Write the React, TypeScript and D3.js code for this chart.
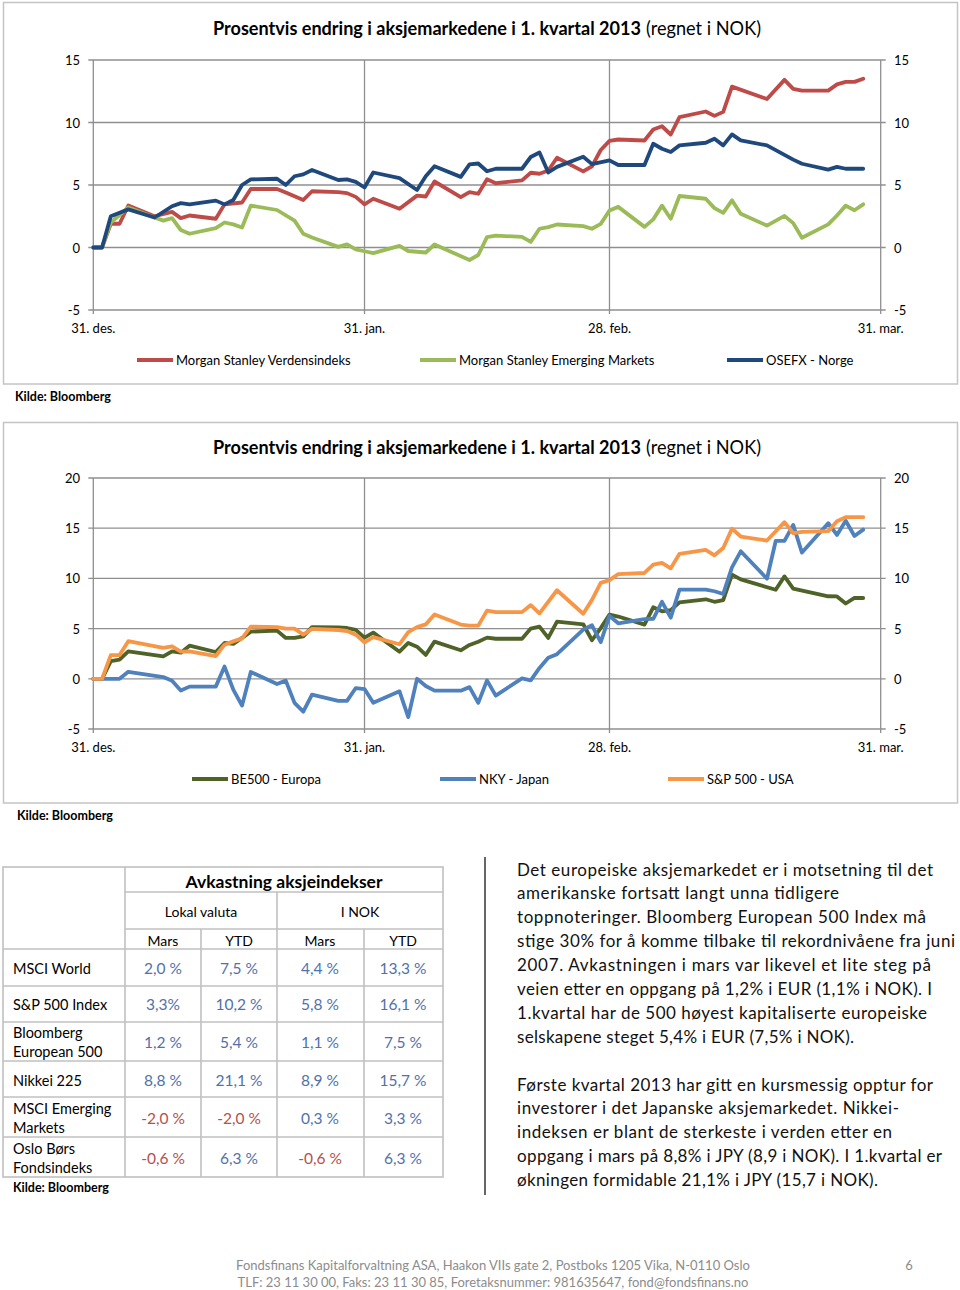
import React from 'react';
import * as d3 from 'd3';

type Pt = [string, number];

// ---------- DATA ----------
const xTickDates = ['12-31', '01-31', '02-28', '03-31'];
const xTickLabels = ['31. des.', '31. jan.', '28. feb.', '31. mar.'];
const chart1Ticks = [-5, 0, 5, 10, 15];
const chart2Ticks = [-5, 0, 5, 10, 15, 20];

const msciWorld: Pt[] = [
  ['12-31', 0], ['01-01', 0], ['01-02', 1.9], ['01-03', 1.9], ['01-04', 3.36], ['01-07', 2.5], ['01-09', 2.85],
  ['01-10', 2.35], ['01-11', 2.56], ['01-14', 2.3], ['01-15', 3.45], ['01-17', 3.6], ['01-18', 4.68], ['01-21', 4.68],
  ['01-22', 4.4], ['01-23', 4.1], ['01-24', 3.8], ['01-25', 4.5], ['01-28', 4.43], ['01-29', 4.35], ['01-30', 4.05],
  ['01-31', 3.45], ['02-01', 3.9], ['02-04', 3.1], ['02-06', 4.15], ['02-07', 4.08], ['02-08', 5.28], ['02-11', 4.03],
  ['02-12', 4.43], ['02-13', 4.3], ['02-14', 5.46], ['02-15', 5.14], ['02-18', 5.37], ['02-19', 5.98], ['02-20', 5.9],
  ['02-21', 6.16], ['02-22', 7.18], ['02-25', 6.09], ['02-26', 6.5], ['02-27', 7.8], ['02-28', 8.53], ['03-01', 8.64],
  ['03-04', 8.56], ['03-05', 9.44], ['03-06', 9.7], ['03-07', 9.04], ['03-08', 10.43], ['03-11', 10.88], ['03-12', 10.53],
  ['03-13', 10.85], ['03-14', 12.87], ['03-18', 11.88], ['03-20', 13.41], ['03-21', 12.69], ['03-22', 12.55],
  ['03-25', 12.55], ['03-26', 13.05], ['03-27', 13.25], ['03-28', 13.25], ['03-29', 13.5],
];

const msciEmerging: Pt[] = [
  ['12-31', 0], ['01-01', 0.05], ['01-02', 2.0], ['01-04', 3.2], ['01-07', 2.4], ['01-08', 2.15], ['01-09', 2.35],
  ['01-10', 1.4], ['01-11', 1.1], ['01-14', 1.55], ['01-15', 2.0], ['01-16', 1.85], ['01-17', 1.6], ['01-18', 3.35],
  ['01-21', 3.0], ['01-23', 2.15], ['01-24', 1.1], ['01-25', 0.8], ['01-28', 0.05], ['01-29', 0.25], ['01-30', -0.15],
  ['01-31', -0.3], ['02-01', -0.45], ['02-04', 0.13], ['02-05', -0.28], ['02-07', -0.4], ['02-08', 0.24], ['02-12', -1.0],
  ['02-13', -0.6], ['02-14', 0.83], ['02-15', 0.95], ['02-18', 0.85], ['02-19', 0.45], ['02-20', 1.5], ['02-21', 1.63],
  ['02-22', 1.84], ['02-25', 1.71], ['02-26', 1.5], ['02-27', 1.89], ['02-28', 2.96], ['03-01', 3.25], ['03-04', 1.65],
  ['03-05', 2.25], ['03-06', 3.35], ['03-07', 2.3], ['03-08', 4.12], ['03-11', 3.9], ['03-12', 3.15], ['03-13', 2.77],
  ['03-14', 3.77], ['03-15', 2.7], ['03-18', 1.75], ['03-20', 2.53], ['03-21', 1.95], ['03-22', 0.78], ['03-25', 1.85],
  ['03-26', 2.56], ['03-27', 3.35], ['03-28', 2.98], ['03-29', 3.45],
];

const osefx: Pt[] = [
  ['12-31', 0], ['01-01', 0], ['01-02', 2.5], ['01-04', 3.05], ['01-07', 2.4], ['01-09', 3.3], ['01-10', 3.55],
  ['01-11', 3.45], ['01-14', 3.75], ['01-15', 3.45], ['01-16', 3.8], ['01-17', 5.0], ['01-18', 5.45], ['01-21', 5.5],
  ['01-22', 5.0], ['01-23', 5.7], ['01-24', 5.85], ['01-25', 6.2], ['01-28', 5.4], ['01-29', 5.45], ['01-30', 5.25],
  ['01-31', 4.8], ['02-01', 6.0], ['02-04', 5.55], ['02-06', 4.6], ['02-07', 5.7], ['02-08', 6.5], ['02-11', 5.65],
  ['02-12', 6.65], ['02-13', 6.72], ['02-14', 6.1], ['02-15', 6.3], ['02-18', 6.3], ['02-19', 7.24], ['02-20', 7.6],
  ['02-21', 6.0], ['02-22', 6.45], ['02-25', 7.26], ['02-26', 6.67], ['02-28', 6.97], ['03-01', 6.6], ['03-04', 6.6],
  ['03-05', 8.3], ['03-06', 7.9], ['03-07', 7.64], ['03-08', 8.17], ['03-11', 8.38], ['03-12', 8.7], ['03-13', 8.17],
  ['03-14', 9.05], ['03-15', 8.57], ['03-18', 8.17], ['03-21', 7.03], ['03-22', 6.7], ['03-25', 6.23], ['03-26', 6.45],
  ['03-27', 6.3], ['03-29', 6.3],
];

const be500: Pt[] = [
  ['12-31', 0], ['01-01', 0], ['01-02', 1.75], ['01-03', 1.9], ['01-04', 2.74], ['01-08', 2.24], ['01-09', 2.74],
  ['01-10', 2.6], ['01-11', 3.3], ['01-14', 2.67], ['01-15', 3.57], ['01-16', 3.47], ['01-17', 4.07], ['01-18', 4.7],
  ['01-21', 4.8], ['01-22', 4.07], ['01-23', 4.07], ['01-24', 4.23], ['01-25', 5.15], ['01-28', 5.13], ['01-29', 5.06],
  ['01-30', 4.87], ['01-31', 4.1], ['02-01', 4.6], ['02-04', 2.7], ['02-05', 3.57], ['02-06', 3.2], ['02-07', 2.38],
  ['02-08', 3.7], ['02-11', 2.84], ['02-12', 3.37], ['02-13', 3.7], ['02-14', 4.1], ['02-15', 3.99], ['02-18', 3.99],
  ['02-19', 5.0], ['02-20', 5.2], ['02-21', 4.07], ['02-22', 5.7], ['02-25', 5.43], ['02-26', 3.84], ['02-27', 5.05],
  ['02-28', 6.39], ['03-01', 6.2], ['03-04', 5.4], ['03-05', 7.12], ['03-06', 6.72], ['03-07', 6.84], ['03-08', 7.62],
  ['03-11', 7.92], ['03-12', 7.67], ['03-13', 7.84], ['03-14', 10.38], ['03-15', 9.9], ['03-19', 8.87], ['03-20', 10.2],
  ['03-21', 8.98], ['03-25', 8.22], ['03-26', 8.2], ['03-27', 7.5], ['03-28', 8.05], ['03-29', 8.05],
];

const nky: Pt[] = [
  ['12-31', 0], ['01-01', 0], ['01-03', 0], ['01-04', 0.7], ['01-08', 0.17], ['01-09', -0.2], ['01-10', -1.16],
  ['01-11', -0.78], ['01-14', -0.78], ['01-15', 1.22], ['01-16', -1.08], ['01-17', -2.67], ['01-18', 0.68],
  ['01-21', -0.52], ['01-22', -0.18], ['01-23', -2.4], ['01-24', -3.27], ['01-25', -1.57], ['01-28', -2.2],
  ['01-29', -2.2], ['01-30', -0.92], ['01-31', -1.02], ['02-01', -2.38], ['02-04', -1.25], ['02-05', -3.82],
  ['02-06', 0], ['02-07', -0.72], ['02-08', -1.18], ['02-11', -1.18], ['02-12', -0.83], ['02-13', -2.4],
  ['02-14', -0.16], ['02-15', -1.68], ['02-18', 0.05], ['02-19', -0.15], ['02-20', 1.08], ['02-21', 2.1],
  ['02-22', 2.45], ['02-25', 4.9], ['02-26', 5.33], ['02-27', 3.65], ['02-28', 6.27], ['03-01', 5.53], ['03-04', 5.95],
  ['03-05', 5.98], ['03-06', 7.67], ['03-07', 6.09], ['03-08', 8.88], ['03-11', 8.88], ['03-12', 8.72], ['03-13', 8.45],
  ['03-14', 11.1], ['03-15', 12.7], ['03-18', 9.97], ['03-19', 13.73], ['03-20', 13.73], ['03-21', 15.33],
  ['03-22', 12.57], ['03-25', 15.5], ['03-26', 14.33], ['03-27', 15.74], ['03-28', 14.23], ['03-29', 14.86],
];

const sp500: Pt[] = [
  ['12-31', 0], ['01-01', 0], ['01-02', 2.36], ['01-03', 2.36], ['01-04', 3.75], ['01-08', 3.07], ['01-09', 3.24],
  ['01-10', 2.7], ['01-11', 2.74], ['01-14', 2.27], ['01-15', 3.4], ['01-16', 3.73], ['01-17', 4.03], ['01-18', 5.2],
  ['01-21', 5.15], ['01-22', 5.0], ['01-23', 5.0], ['01-24', 4.4], ['01-25', 4.98], ['01-28', 4.86], ['01-29', 4.76],
  ['01-30', 4.4], ['01-31', 3.62], ['02-01', 4.15], ['02-04', 3.44], ['02-05', 4.65], ['02-06', 5.15], ['02-07', 5.42],
  ['02-08', 6.4], ['02-11', 5.4], ['02-12', 5.3], ['02-13', 5.3], ['02-14', 6.79], ['02-15', 6.64], ['02-18', 6.64],
  ['02-19', 7.34], ['02-20', 6.52], ['02-22', 8.82], ['02-25', 6.48], ['02-26', 7.86], ['02-27', 9.55], ['02-28', 9.83],
  ['03-01', 10.42], ['03-04', 10.54], ['03-05', 11.37], ['03-06', 11.54], ['03-07', 11.0], ['03-08', 12.45],
  ['03-11', 12.84], ['03-12', 12.3], ['03-13', 13.03], ['03-14', 14.95], ['03-15', 14.17], ['03-18', 13.77],
  ['03-20', 15.6], ['03-21', 14.5], ['03-22', 14.63], ['03-25', 14.7], ['03-26', 15.69], ['03-27', 16.1], ['03-29', 16.1],
];

const chart1Names = ['Morgan Stanley Verdensindeks', 'Morgan Stanley Emerging Markets', 'OSEFX - Norge'];
const chart2Names = ['BE500 - Europa', 'NKY - Japan', 'S&P 500 - USA'];

const tableRowLabels = [
  ['MSCI World'], ['S&P 500 Index'], ['Bloomberg', 'European 500'], ['Nikkei 225'],
  ['MSCI Emerging', 'Markets'], ['Oslo Børs', 'Fondsindeks'],
];
const lokalMars = ['2,0 %', '3,3%', '1,2 %', '8,8 %', '-2,0 %', '-0,6 %'];
const lokalYtd = ['7,5 %', '10,2 %', '5,4 %', '21,1 %', '-2,0 %', '6,3 %'];
const nokMars = ['4,4 %', '5,8 %', '1,1 %', '8,9 %', '0,3 %', '-0,6 %'];
const nokYtd = ['13,3 %', '16,1 %', '7,5 %', '15,7 %', '3,3 %', '6,3 %'];

const paragraph1 = [
  'Det europeiske aksjemarkedet er i motsetning til det',
  'amerikanske fortsatt langt unna tidligere',
  'toppnoteringer. Bloomberg European 500 Index må',
  'stige 30% for å komme tilbake til rekordnivåene fra juni',
  '2007. Avkastningen i mars var likevel et lite steg på',
  'veien etter en oppgang på 1,2% i EUR (1,1% i NOK). I',
  '1.kvartal har de 500 høyest kapitaliserte europeiske',
  'selskapene steget 5,4% i EUR (7,5% i NOK).',
];
const paragraph2 = [
  'Første kvartal 2013 har gitt en kursmessig opptur for',
  'investorer i det Japanske aksjemarkedet. Nikkei-',
  'indeksen er blant de sterkeste i verden etter en',
  'oppgang i mars på 8,8% i JPY (8,9 i NOK). I 1.kvartal er',
  'økningen formidable 21,1% i JPY (15,7 i NOK).',
];
const paragraph1Ends = [933, 839, 926, 955, 931, 932, 927, 854];
const paragraph2Ends = [933, 899, 892, 942, 878];

// ---------- HELPERS ----------
const FONT = 'Lato, "Open Sans", sans-serif';
const parseDay = (s: string) =>
  s === '12-31' ? new Date(Date.UTC(2012, 11, 31)) : new Date(Date.UTC(2013, +s.slice(0, 2) - 1, +s.slice(3)));

const PLOT_L = 93.3;
const PLOT_R = 880.7;
const GRID = '#8f8f8f';

const x = d3.scaleUtc().domain([parseDay('12-31'), parseDay('03-31')]).range([PLOT_L, PLOT_R]);

interface ChartProps {
  boxTop: number;
  boxBottom: number;
  titleY: number;
  yTop: number;
  yBottom: number;
  ticks: number[];
  series: Pt[][];
  colors: string[];
  names: string[];
  legendXs: number[];
  kildeX: number;
}

function Title({ y }: { y: number }) {
  return (
    <g fontFamily={FONT} fontSize={18.5}>
      <text x={213} y={y} dominantBaseline="central" fontWeight="bold" textLength={428} lengthAdjust="spacingAndGlyphs">
        Prosentvis endring i aksjemarkedene i 1. kvartal 2013
      </text>
      <text x={646} y={y} dominantBaseline="central" textLength={115} lengthAdjust="spacingAndGlyphs">
        (regnet i NOK)
      </text>
    </g>
  );
}

function LineChart(p: ChartProps) {
  const y = d3.scaleLinear().domain([p.ticks[0], p.ticks[p.ticks.length - 1]]).range([p.yBottom, p.yTop]);
  const line = d3
    .line<Pt>()
    .x((d) => x(parseDay(d[0])))
    .y((d) => y(d[1]));
  return (
    <g>
      <rect x={3.5} y={p.boxTop} width={954} height={p.boxBottom - p.boxTop} fill="white" stroke="#c4c4c4" strokeWidth={1.5} />
      <Title y={p.titleY} />
      {p.ticks.map((t) => (
        <g key={t}>
          <line x1={PLOT_L - 5} x2={PLOT_R + 5} y1={y(t)} y2={y(t)} stroke={GRID} strokeWidth={1.3} />
          <text x={80} y={y(t)} textAnchor="end" dominantBaseline="central" fontFamily={FONT} fontSize={13}>
            {t}
          </text>
          <text x={894} y={y(t)} textAnchor="start" dominantBaseline="central" fontFamily={FONT} fontSize={13}>
            {t}
          </text>
        </g>
      ))}
      {xTickDates.map((d, i) => (
        <g key={d}>
          <line x1={x(parseDay(d))} x2={x(parseDay(d))} y1={p.yTop} y2={p.yBottom + 4} stroke={GRID} strokeWidth={1.3} />
          <text x={x(parseDay(d))} y={p.yBottom + 18} textAnchor="middle" dominantBaseline="central" fontFamily={FONT} fontSize={13}>
            {xTickLabels[i]}
          </text>
        </g>
      ))}
      {p.series.map((s, i) => (
        <path key={i} d={line(s) || ''} fill="none" stroke={p.colors[i]} strokeWidth={3.8} strokeLinejoin="round" strokeLinecap="round" />
      ))}
      {p.names.map((n, i) => (
        <g key={n}>
          <line x1={p.legendXs[i]} x2={p.legendXs[i] + 36} y1={p.yBottom + 50} y2={p.yBottom + 50} stroke={p.colors[i]} strokeWidth={3.8} />
          <text x={p.legendXs[i] + 39} y={p.yBottom + 50} dominantBaseline="central" fontFamily={FONT} fontSize={13}>
            {n}
          </text>
        </g>
      ))}
      <text x={p.kildeX} y={p.boxBottom + 12} dominantBaseline="central" fontFamily={FONT} fontSize={12.5} fontWeight="bold">
        Kilde: Bloomberg
      </text>
    </g>
  );
}

function Table() {
  const L = 3, R = 443, T = 867, B = 1177;
  const c1 = 125, cMid = 277, cA = 201, cB = 364;
  const rowLines = [949, 986, 1022, 1061, 1097, 1137];
  const rowCenters = [968, 1004, 1042, 1080, 1118, 1158];
  const colCenters = [163, 239, 320, 403];
  const cols = [lokalMars, lokalYtd, nokMars, nokYtd];
  const stroke = '#c0c0c0';
  const blue = '#4f72ab';
  const red = '#b5504d';
  return (
    <g fontFamily={FONT}>
      <rect x={L} y={T} width={R - L} height={B - T} fill="none" stroke={stroke} strokeWidth={1.6} />
      <line x1={c1} x2={R} y1={892} y2={892} stroke={stroke} strokeWidth={1.6} />
      <line x1={c1} x2={R} y1={929} y2={929} stroke={stroke} strokeWidth={1.6} />
      {rowLines.map((r) => (
        <line key={r} x1={L} x2={R} y1={r} y2={r} stroke={stroke} strokeWidth={1.6} />
      ))}
      <line x1={c1} x2={c1} y1={T} y2={B} stroke={stroke} strokeWidth={1.6} />
      <line x1={cMid} x2={cMid} y1={892} y2={B} stroke={stroke} strokeWidth={1.6} />
      <line x1={cA} x2={cA} y1={929} y2={B} stroke={stroke} strokeWidth={1.6} />
      <line x1={cB} x2={cB} y1={929} y2={B} stroke={stroke} strokeWidth={1.6} />
      <text x={284} y={881} textAnchor="middle" dominantBaseline="central" fontWeight="bold" fontSize={17.5}>
        Avkastning aksjeindekser
      </text>
      <text x={201} y={911} textAnchor="middle" dominantBaseline="central" fontSize={14}>Lokal valuta</text>
      <text x={360} y={911} textAnchor="middle" dominantBaseline="central" fontSize={14}>I NOK</text>
      {['Mars', 'YTD', 'Mars', 'YTD'].map((h, i) => (
        <text key={i} x={colCenters[i]} y={940} textAnchor="middle" dominantBaseline="central" fontSize={14}>{h}</text>
      ))}
      {tableRowLabels.map((lab, r) => (
        <g key={r}>
          {lab.map((l, k) => (
            <text key={k} x={13} y={rowCenters[r] + (lab.length === 1 ? 0 : k === 0 ? -10 : 9.5)} dominantBaseline="central" fontSize={14.5}>
              {l}
            </text>
          ))}
          {cols.map((col, c) => (
            <text key={c} x={colCenters[c]} y={rowCenters[r]} textAnchor="middle" dominantBaseline="central" fontSize={15.5}
              fill={col[r].startsWith('-') ? red : blue}>
              {col[r]}
            </text>
          ))}
        </g>
      ))}
      <text x={13} y={1187} dominantBaseline="central" fontSize={12.5} fontWeight="bold">Kilde: Bloomberg</text>
    </g>
  );
}

function Paragraphs() {
  return (
    <g fontFamily={FONT} fontSize={17} fill="#111">
      {paragraph1.map((l, i) => (
        <text key={'a' + i} x={517} y={869 + i * 23.9} dominantBaseline="central" textLength={paragraph1Ends[i] - 517} lengthAdjust="spacing">
          {l}
        </text>
      ))}
      {paragraph2.map((l, i) => (
        <text key={'b' + i} x={517} y={1084 + i * 23.8} dominantBaseline="central" textLength={paragraph2Ends[i] - 517} lengthAdjust="spacing">
          {l}
        </text>
      ))}
    </g>
  );
}

export default function App() {
  return (
    <svg width={960} height={1290} style={{ position: 'absolute', left: 0, top: 0, background: 'white' }}>
      <rect x={0} y={0} width={960} height={1290} fill="white" />
      <LineChart
        boxTop={2.5}
        boxBottom={384}
        titleY={28}
        yTop={60}
        yBottom={310}
        ticks={chart1Ticks}
        series={[msciWorld, msciEmerging, osefx]}
        colors={['#be4b48', '#9bbb59', '#1f497d']}
        names={chart1Names}
        legendXs={[137, 420, 727]}
        kildeX={15}
      />
      <LineChart
        boxTop={422.5}
        boxBottom={803}
        titleY={447}
        yTop={478}
        yBottom={729}
        ticks={chart2Ticks}
        series={[be500, nky, sp500]}
        colors={['#4f6228', '#4f81bd', '#f79646']}
        names={chart2Names}
        legendXs={[192, 440, 668]}
        kildeX={17}
      />
      <Table />
      <line x1={485} x2={485} y1={857} y2={1195} stroke="#333" strokeWidth={1.5} />
      <Paragraphs />
      <g fontFamily={FONT} fontSize={13} fill="#8c8c8c">
        <text x={493} y={1265} textAnchor="middle" dominantBaseline="central">
          Fondsfinans Kapitalforvaltning ASA, Haakon VIIs gate 2, Postboks 1205 Vika, N-0110 Oslo
        </text>
        <text x={493} y={1282} textAnchor="middle" dominantBaseline="central">
          TLF: 23 11 30 00, Faks: 23 11 30 85, Foretaksnummer: 981635647, fond@fondsfinans.no
        </text>
        <text x={909} y={1265} textAnchor="middle" dominantBaseline="central">6</text>
      </g>
    </svg>
  );
}
